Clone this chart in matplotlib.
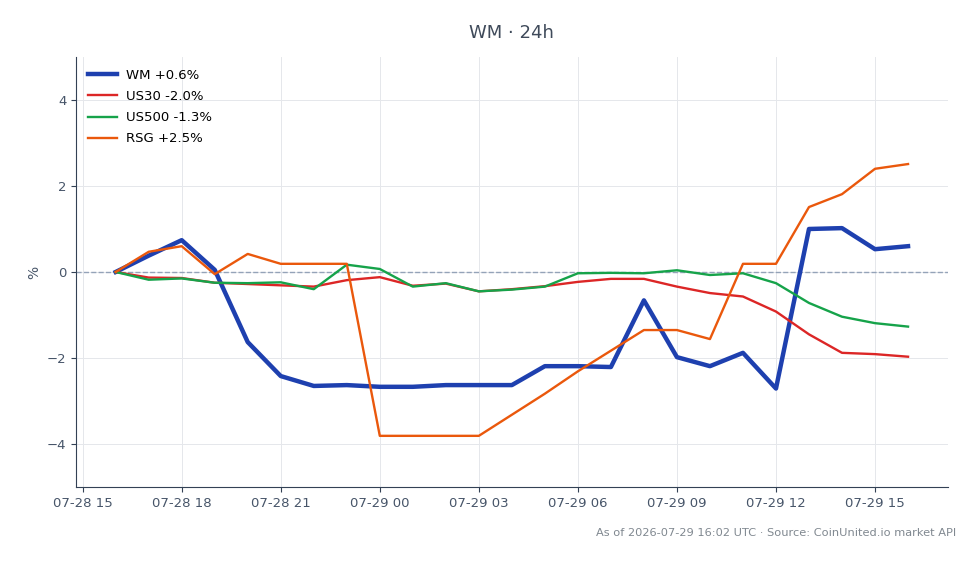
import matplotlib
matplotlib.use("Agg")
import matplotlib.pyplot as plt
import matplotlib.dates as mdates
import pandas as pd

times = pd.date_range("2026-07-28 16:00", "2026-07-29 16:00", freq="h")

wm = [0.0, 0.38, 0.74, 0.05, -1.63, -2.42, -2.65, -2.63, -2.67, -2.67, -2.63, -2.63, -2.63,
      -2.19, -2.19, -2.21, -0.66, -1.98, -2.19, -1.88, -2.71, 1.00, 1.02, 0.53, 0.60]
us30 = [0.0, -0.13, -0.14, -0.25, -0.28, -0.31, -0.34, -0.19, -0.12, -0.32, -0.27, -0.45, -0.40,
        -0.33, -0.23, -0.16, -0.16, -0.34, -0.49, -0.57, -0.92, -1.45, -1.88, -1.91, -1.97]
us500 = [0.0, -0.18, -0.15, -0.25, -0.26, -0.24, -0.40, 0.17, 0.07, -0.34, -0.26, -0.45, -0.41,
         -0.34, -0.03, -0.02, -0.03, 0.04, -0.07, -0.03, -0.26, -0.72, -1.04, -1.19, -1.27]
rsg = [0.0, 0.47, 0.60, -0.05, 0.42, 0.19, 0.19, 0.19, -3.81, -3.81, -3.81, -3.81, -3.32,
       -2.83, -2.31, -1.83, -1.35, -1.35, -1.56, 0.19, 0.19, 1.51, 1.81, 2.40, 2.51]

labels = ["WM +0.6%", "US30 -2.0%", "US500 -1.3%", "RSG +2.5%"]
colors = ["#1e40af", "#dc2626", "#16a34a", "#ea580c"]
widths = [3.2, 1.7, 1.7, 1.7]

fig = plt.figure(figsize=(9.8, 5.64), dpi=100)
ax = fig.add_axes([0.0776, 0.1365, 0.8894, 0.7625])

for series, lab, c, lw in zip([wm, us30, us500, rsg], labels, colors, widths):
    ax.plot(times, series, color=c, lw=lw, label=lab, zorder=3)

ax.axhline(0, color="#94a3b8", lw=1, ls="--", zorder=2)
ax.set_ylim(-5, 5)
ax.set_yticks([-4, -2, 0, 2, 4])
ax.xaxis.set_major_locator(mdates.HourLocator(byhour=range(0, 24, 3)))
ax.xaxis.set_major_formatter(mdates.DateFormatter("%m-%d %H"))
ax.grid(True, color="#e5e7eb", lw=0.7, zorder=0)
for s in ["top", "right"]:
    ax.spines[s].set_visible(False)
for s in ["left", "bottom"]:
    ax.spines[s].set_color("#334155")
ax.tick_params(colors="#334155", labelcolor="#475569", labelsize=9.5)
ax.set_ylabel("%", color="#475569", fontsize=10)
ax.set_title("WM · 24h", color="#3f4a5a", fontsize=13, pad=14)
ax.legend(loc="upper left", frameon=False, fontsize=9.5, handlelength=2.2,
          handletextpad=0.65, labelspacing=0.62)

fig.text(0.976, 0.055, "As of 2026-07-29 16:02 UTC · Source: CoinUnited.io market API",
         ha="right", va="center", fontsize=8.2, color="#808890")

fig.savefig("out.png", dpi=100)
